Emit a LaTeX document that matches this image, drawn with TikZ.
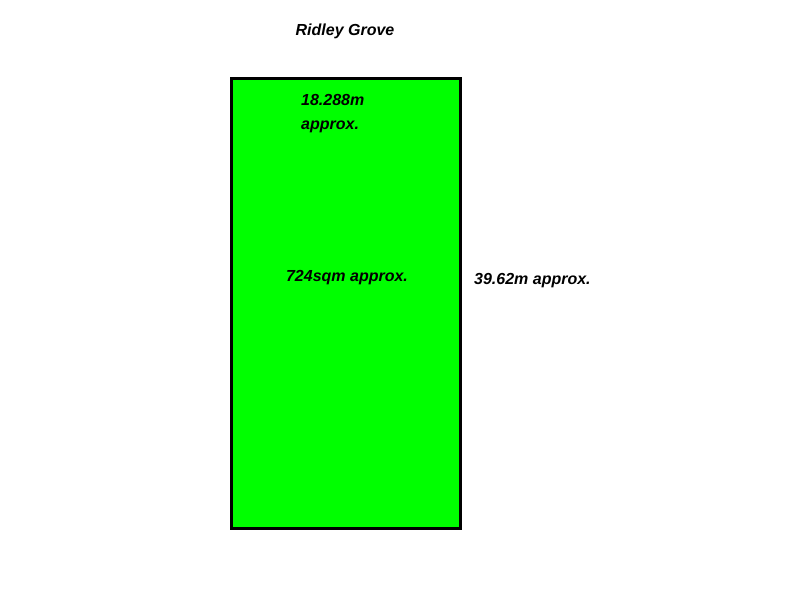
\documentclass[tikz,border=0pt]{standalone}
\usepackage{fontspec}
\setmainfont{Liberation Sans}
\begin{document}
\begin{tikzpicture}[x=1pt,y=-1pt,
  lbl/.style={font=\fontsize{16}{24}\selectfont\bfseries\itshape, inner sep=0pt}]
\useasboundingbox (0,0) rectangle (800,600);
\fill[white] (0,0) rectangle (800,600);
\node[draw=black, line width=3pt, fill={rgb,255:red,0;green,255;blue,0}, minimum width=229pt, minimum height=450pt, inner sep=0pt, anchor=north west] (lot) at (230,76.5) {};
\node[lbl] (road) at (345,31) {Ridley Grove};
\node[lbl, anchor=west, align=left] (front) at (301,114) {18.288m\\approx.};
\node[lbl] (area) at (347,278) {724sqm approx.};
\node[lbl, anchor=west] (side) at (474,281) {39.62m approx.};
\end{tikzpicture}
\end{document}
